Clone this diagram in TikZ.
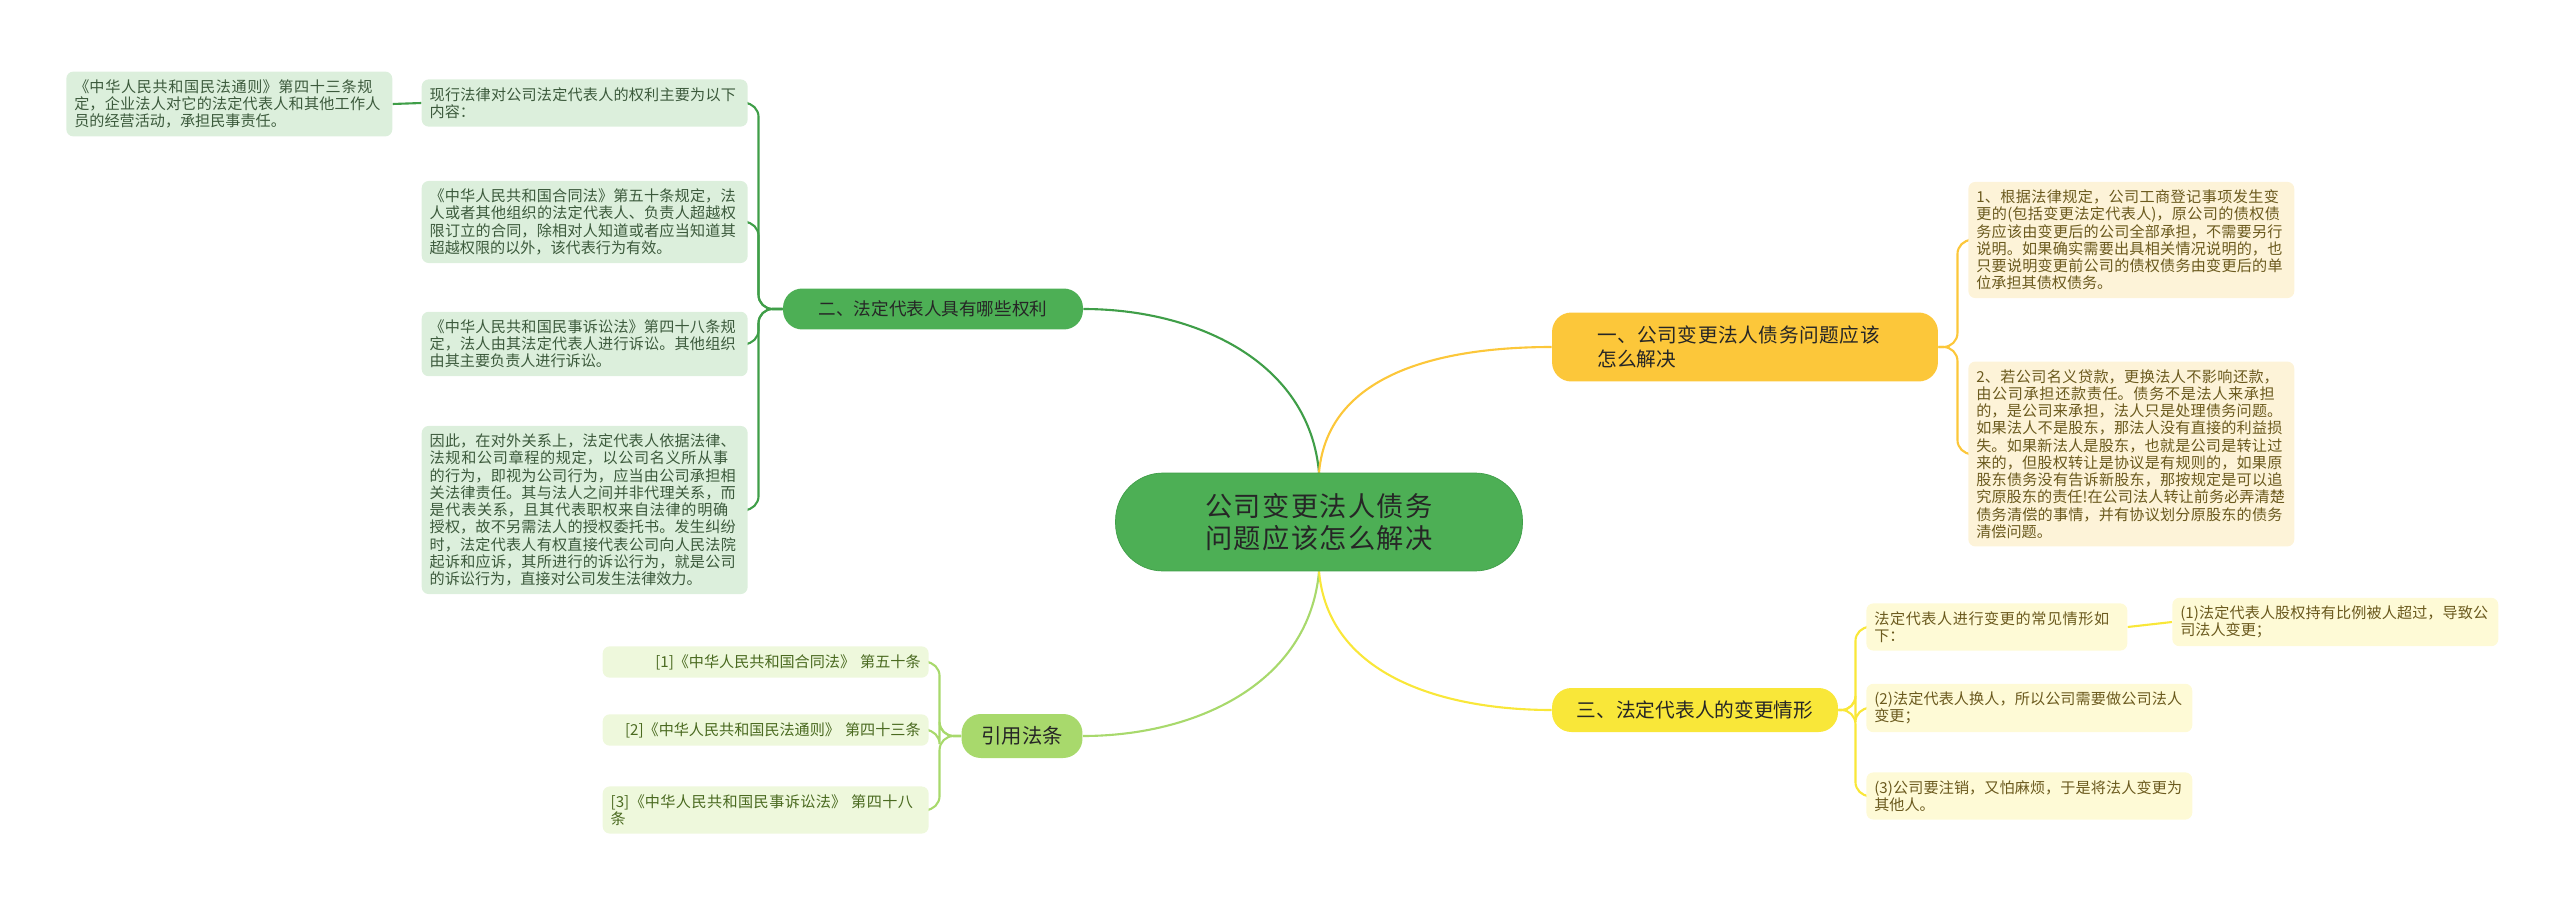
\documentclass[tikz,border=0pt]{standalone}
\usepackage{fontspec}
\setmainfont{Noto Sans CJK SC}
\XeTeXlinebreaklocale "zh"
\XeTeXlinebreakskip=0pt plus 1pt
\usetikzlibrary{backgrounds}

\definecolor{maingreen}{HTML}{4DAF55}
\definecolor{linegreen}{HTML}{3F9E48}
\definecolor{leafgreen}{HTML}{DCEFDC}
\definecolor{textgreen}{HTML}{3C5A3C}
\definecolor{limegreen}{HTML}{A8D96C}
\definecolor{leaflime}{HTML}{EEF8DC}
\definecolor{textlime}{HTML}{4A6A20}
\definecolor{orangey}{HTML}{FCC73A}
\definecolor{leaforange}{HTML}{FDF3D8}
\definecolor{brightyellow}{HTML}{F9E739}
\definecolor{leafyellow}{HTML}{FEFAD6}
\definecolor{textbrown}{HTML}{6B5A1E}

\tikzset{
  leaf/.style={rounded corners=4pt, inner sep=0.16cm, text width=6.2cm, align=left,
    font=\fontsize{8.6}{9.8}\selectfont},
  greenleaf/.style={leaf, fill=leafgreen, text=textgreen},
  limeleaf/.style={leaf, fill=leaflime, text=textlime},
  orangeleaf/.style={leaf, fill=leaforange, text=textbrown},
  yellowleaf/.style={leaf, fill=leafyellow, text=textbrown},
  branch/.style={rounded corners=11pt, inner sep=0pt, align=center, text=black!85},
  link/.style={line width=1.2pt}
}

\begin{document}
\begin{tikzpicture}[x=0.02cm, y=-0.02cm]
\useasboundingbox (0,0) rectangle (2560,899);

% Central topic
\node[rounded corners=27pt, fill=maingreen, draw=linegreen, minimum width=8.14cm, minimum height=1.96cm,
  text width=6.2cm, align=center, font=\fontsize{15.5}{18.6}\selectfont, text=black!85] (main) at (1319,522)
  {公司变更法人债务问题应该怎么解决};

% Left branch: rights
\node[branch, fill=maingreen, minimum width=6cm, minimum height=0.82cm, font=\fontsize{10}{12}\selectfont] (rights) at (933,309)
  {二、法定代表人具有哪些权利};
\node[greenleaf, anchor=east] (r1) at (748,103) {现行法律对公司法定代表人的权利主要为以下内容：};
\node[greenleaf, anchor=east] (r2) at (748,222) {《中华人民共和国合同法》第五十条规定，法人或者其他组织的法定代表人、负责人超越权限订立的合同，除相对人知道或者应当知道其超越权限的以外，该代表行为有效。};
\node[greenleaf, anchor=east] (r3) at (748,344) {《中华人民共和国民事诉讼法》第四十八条规定，法人由其法定代表人进行诉讼。其他组织由其主要负责人进行诉讼。};
\node[greenleaf, anchor=east] (r4) at (748,510) {因此，在对外关系上，法定代表人依据法律、法规和公司章程的规定，以公司名义所从事的行为，即视为公司行为，应当由公司承担相关法律责任。其与法人之间并非代理关系，而是代表关系，且其代表职权来自法律的明确授权，故不另需法人的授权委托书。发生纠纷时，法定代表人有权直接代表公司向人民法院起诉和应诉，其所进行的诉讼行为，就是公司的诉讼行为，直接对公司发生法律效力。};
\node[greenleaf, anchor=west] (r1a) at (66,104) {《中华人民共和国民法通则》第四十三条规定，企业法人对它的法定代表人和其他工作人员的经营活动，承担民事责任。};

% Left branch: cited laws
\node[branch, fill=limegreen, minimum width=2.42cm, minimum height=0.88cm, font=\fontsize{11.6}{13}\selectfont] (laws) at (1022,736)
  {引用法条};
\node[limeleaf, anchor=east] (l1) at (929,662) {\hfill[1]《中华人民共和国合同法》 第五十条};
\node[limeleaf, anchor=east] (l2) at (929,730) {\hfill[2]《中华人民共和国民法通则》 第四十三条};
\node[limeleaf, anchor=east] (l3) at (929,810) {[3]《中华人民共和国民事诉讼法》 第四十八条};

% Right branch: debts
\node[branch, fill=orangey, minimum width=7.72cm, minimum height=1.38cm, text width=5.9cm, align=left,
  font=\fontsize{11.2}{14}\selectfont] (debts) at (1745,347)
  {一、公司变更法人债务问题应该怎么解决};
\node[orangeleaf, anchor=west] (d1) at (1968,240) {1、根据法律规定，公司工商登记事项发生变更的(包括变更法定代表人)，原公司的债权债务应该由变更后的公司全部承担，不需要另行说明。如果确实需要出具相关情况说明的，也只要说明变更前公司的债权债务由变更后的单位承担其债权债务。};
\node[orangeleaf, anchor=west] (d2) at (1968,454) {2、若公司名义贷款，更换法人不影响还款，由公司承担还款责任。债务不是法人来承担的，是公司来承担，法人只是处理债务问题。如果法人不是股东，那法人没有直接的利益损失。如果新法人是股东，也就是公司是转让过来的，但股权转让是协议是有规则的，如果原股东债务没有告诉新股东，那按规定是可以追究原股东的责任!在公司法人转让前务必弄清楚债务清偿的事情，并有协议划分原股东的债务清偿问题。};

% Right branch: changes
\node[branch, fill=brightyellow, minimum width=5.72cm, minimum height=0.88cm, font=\fontsize{11.2}{13}\selectfont] (changes) at (1695,710)
  {三、法定代表人的变更情形};
\node[yellowleaf, anchor=west, text width=4.9cm] (k1) at (1866,627) {法定代表人进行变更的常见情形如下：};
\node[yellowleaf, anchor=west] (k1a) at (2172,622) {(1)法定代表人股权持有比例被人超过，导致公司法人变更；};
\node[yellowleaf, anchor=west] (k2) at (1866,708) {(2)法定代表人换人，所以公司需要做公司法人变更；};
\node[yellowleaf, anchor=west] (k3) at (1866,796) {(3)公司要注销，又怕麻烦，于是将法人变更为其他人。};

\begin{scope}[on background layer]
% Main connectors
\draw[link, linegreen] (main.north) to[out=95, in=0] (rights.east);
\draw[link, limegreen] (main.south) to[out=-95, in=0] (laws.east);
\draw[link, orangey] (main.north) to[out=85, in=180] (debts.west);
\draw[link, brightyellow] (main.south) to[out=-85, in=180] (changes.west);

% Brackets
\foreach \leaf in {r1,r2,r3,r4}
  \draw[link, linegreen, rounded corners=8pt] (rights.west) -| ([xshift=6pt]\leaf.east) -- (\leaf.east);
\draw[link, linegreen] (r1.west) -- (r1a.east);
\foreach \leaf in {l1,l2,l3}
  \draw[link, limegreen, rounded corners=8pt] (laws.west) -| ([xshift=6pt]\leaf.east) -- (\leaf.east);
\foreach \leaf in {d1,d2}
  \draw[link, orangey, rounded corners=8pt] (debts.east) -| ([xshift=-6pt]\leaf.west) -- (\leaf.west);
\foreach \leaf in {k1,k2,k3}
  \draw[link, brightyellow, rounded corners=8pt] (changes.east) -| ([xshift=-6pt]\leaf.west) -- (\leaf.west);
\draw[link, brightyellow] (k1.east) -- (k1a.west);
\end{scope}

\end{tikzpicture}
\end{document}
